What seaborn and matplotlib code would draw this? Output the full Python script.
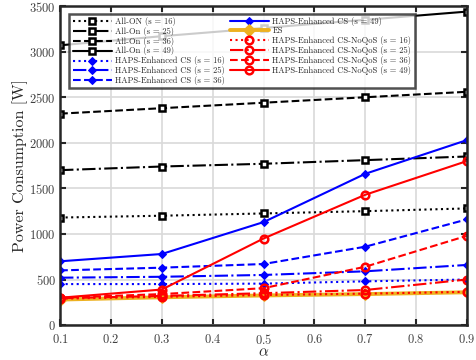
import matplotlib
matplotlib.use("Agg")
import matplotlib.pyplot as plt
import seaborn as sns
import pandas as pd

# alpha values on the x axis
alpha = [0.1, 0.3, 0.5, 0.7, 0.9]

# power consumption [W]
all_on_16 = [1180, 1200, 1225, 1250, 1280]
all_on_25 = [1700, 1740, 1770, 1810, 1850]
all_on_36 = [2320, 2380, 2440, 2500, 2560]
all_on_49 = [3070, 3170, 3260, 3350, 3440]
cs_16 = [450, 450, 455, 480, 500]
cs_25 = [520, 530, 550, 590, 660]
cs_36 = [600, 630, 670, 860, 1160]
cs_49 = [700, 780, 1130, 1660, 2030]
es = [280, 305, 325, 340, 360]
noqos_16 = [290, 310, 330, 345, 365]
noqos_25 = [295, 320, 350, 385, 500]
noqos_36 = [300, 340, 405, 640, 980]
noqos_49 = [300, 390, 950, 1430, 1800]

sns.set_style("ticks")
plt.rcParams['font.family'] = ['cmr10', 'DejaVu Serif']
plt.rcParams['mathtext.fontset'] = 'cm'
plt.rcParams['axes.formatter.use_mathtext'] = True

BLUE = (0, 0, 1)
RED = (1, 0, 0)
ORANGE = '#EDB120'
styles = {16: ':', 25: '-.', 36: '--', 49: '-'}

series = [
    ('All-ON (s = 16)', all_on_16, 'k', 16, 's'),
    ('All-On (s = 25)', all_on_25, 'k', 25, 's'),
    ('All-On (s = 36)', all_on_36, 'k', 36, 's'),
    ('All-On (s = 49)', all_on_49, 'k', 49, 's'),
    ('HAPS-Enhanced CS (s = 16)', cs_16, BLUE, 16, 'D'),
    ('HAPS-Enhanced CS (s = 25)', cs_25, BLUE, 25, 'D'),
    ('HAPS-Enhanced CS (s = 36)', cs_36, BLUE, 36, 'D'),
    ('HAPS-Enhanced CS (s = 49)', cs_49, BLUE, 49, 'D'),
    ('ES', es, ORANGE, 49, 'D'),
    ('HAPS-Enhanced CS-NoQoS (s = 16)', noqos_16, RED, 16, 'o'),
    ('HAPS-Enhanced CS-NoQoS (s = 25)', noqos_25, RED, 25, 'o'),
    ('HAPS-Enhanced CS-NoQoS (s = 36)', noqos_36, RED, 36, 'o'),
    ('HAPS-Enhanced CS-NoQoS (s = 49)', noqos_49, RED, 49, 'o'),
]

fig, ax = plt.subplots(figsize=(4.77, 3.6), dpi=100)
fig.subplots_adjust(left=0.126, right=0.979, top=0.983, bottom=0.097)

for label, vals, color, s, marker in series:
    df = pd.DataFrame({'alpha': alpha, 'power': vals})
    if marker == 's':
        mk = dict(marker='s', markersize=5, markerfacecolor='white',
                  markeredgecolor=color, markeredgewidth=1.8)
    elif marker == 'o':
        mk = dict(marker='o', markersize=5.5, markerfacecolor='none',
                  markeredgecolor=color, markeredgewidth=1.8)
    else:
        mk = dict(marker='D', markersize=4.5, markerfacecolor=color,
                  markeredgecolor=color)
    lw = 2.8 if label == 'ES' else 1.5
    if label == 'ES':
        mk['markersize'] = 6
    sns.lineplot(data=df, x='alpha', y='power', ax=ax, color=color,
                 linestyle=styles[s], linewidth=lw, label=label, **mk)

ax.set_xlim(0.1, 0.9)
ax.set_ylim(0, 3500)
ax.set_xticks([0.1, 0.2, 0.3, 0.4, 0.5, 0.6, 0.7, 0.8, 0.9])
ax.set_yticks(range(0, 3501, 500))
ax.grid(True, color='#d9d9d9', linewidth=1.2)
ax.set_axisbelow(True)
ax.tick_params(direction='in', top=True, right=True, length=4, width=1.5,
               labelsize=9, colors='#262626', labelcolor='#404040', pad=3)
ax.tick_params(axis='x', pad=6)
for sp in ax.spines.values():
    sp.set_linewidth(1.8)
    sp.set_color('#262626')
    sp.set_visible(True)

ax.set_xlabel(r'$\alpha$', fontsize=11, labelpad=-1)
ax.set_ylabel('Power Consumption [W]', fontsize=11.5, color='#262626', labelpad=1)

lines = ax.get_lines()
leg = ax.legend(handles=lines, labels=[l.get_label() for l in lines],
                ncol=2, loc='upper left', bbox_to_anchor=(0.012, 0.99),
                fontsize=6.1, labelspacing=0.1, handlelength=4.6,
                handleheight=0.5, handletextpad=0.4, columnspacing=0.6,
                borderpad=0.4, framealpha=0.8, fancybox=False,
                edgecolor='#262626')
leg.get_frame().set_linewidth(1.8)

plt.savefig('out.png', dpi=100)
